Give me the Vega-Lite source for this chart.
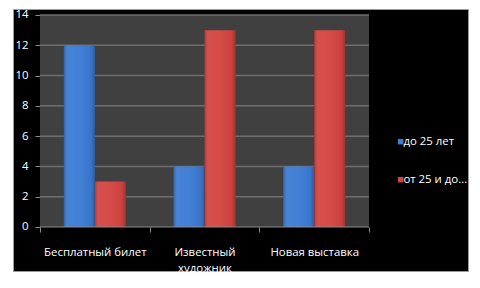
{
  "$schema": "https://vega.github.io/schema/vega-lite/v6.json",
  "width": 455,
  "height": 262,
  "autosize": "none",
  "padding": {"left": 13, "top": 9, "right": 12, "bottom": 17},
  "background": "white",
  "config": {
    "view": {"fill": "black", "stroke": "#9a9a9a", "strokeWidth": 1},
    "font": "Open Sans",
    "axis": {"labelColor": "white", "labelFont": "Open Sans", "labelFontSize": 11.4, "tickColor": "#8a8a8a", "domain": false, "grid": false, "title": null, "labelOverlap": false},
    "legend": {"padding": 0}
  },
  "datasets": {
    "votes": [
      {"reason": "Бесплатный билет", "age": "до 25 лет", "count": 12},
      {"reason": "Бесплатный билет", "age": "от 25 и до…", "count": 3},
      {"reason": "Известный художник", "age": "до 25 лет", "count": 4},
      {"reason": "Известный художник", "age": "от 25 и до…", "count": 13},
      {"reason": "Новая выставка", "age": "до 25 лет", "count": 4},
      {"reason": "Новая выставка", "age": "от 25 и до…", "count": 13}
    ],
    "gridValues": [{"v": 2}, {"v": 4}, {"v": 6}, {"v": 8}, {"v": 10}, {"v": 12}, {"v": 14}]
  },
  "resolve": {"scale": {"color": "independent"}},
  "encoding": {
    "x": {
      "field": "reason",
      "type": "nominal",
      "sort": null,
      "scale": {"domain": ["Бесплатный билет", "Известный художник", "Новая выставка"], "paddingInner": 0, "paddingOuter": 0.5745, "align": 0.2143},
      "axis": {
        "orient": "bottom",
        "offset": -44,
        "tickBand": "extent",
        "tickSize": 5,
        "labelAngle": 0,
        "labelPadding": 14,
        "labelLineHeight": 16,
        "labelExpr": "datum.label == 'Известный художник' ? ['Известный', 'художник'] : datum.label"
      }
    }
  },
  "layer": [
    {
      "data": {"values": [{"top": 14, "bottom": 0}]},
      "mark": {"type": "rect", "color": "#404040"},
      "encoding": {
        "x": {"datum": "Бесплатный билет", "bandPosition": 0},
        "x2": {"datum": "Новая выставка", "bandPosition": 1},
        "y": {"field": "top", "type": "quantitative", "scale": {"domain": [-2.906, 14.396], "nice": false, "zero": false},
          "axis": {"offset": -27, "values": [0, 2, 4, 6, 8, 10, 12, 14], "tickSize": 5, "labelPadding": 7, "labelOverlap": false}},
        "y2": {"field": "bottom"}
      }
    },
    {
      "data": {"name": "gridValues"},
      "mark": {"type": "rule", "color": "#6e6e6e", "strokeWidth": 1.5},
      "encoding": {
        "x": {"datum": "Бесплатный билет", "bandPosition": 0},
        "x2": {"datum": "Новая выставка", "bandPosition": 1},
        "y": {"field": "v", "type": "quantitative",
          "axis": {"offset": -27, "values": [0, 2, 4, 6, 8, 10, 12, 14], "tickSize": 5, "labelPadding": 7, "labelOverlap": false}}
      }
    },
    {
      "data": {"name": "votes"},
      "mark": {"type": "bar"},
      "encoding": {
        "xOffset": {"field": "age", "type": "nominal", "scale": {"paddingInner": 0, "paddingOuter": 0.769}},
        "y": {"field": "count", "type": "quantitative",
          "axis": {"offset": -27, "values": [0, 2, 4, 6, 8, 10, 12, 14], "tickSize": 5, "labelPadding": 7, "labelOverlap": false}},
        "color": {
          "field": "age",
          "type": "nominal",
          "scale": {"domain": ["до 25 лет", "от 25 и до…"], "range": ["#3b7bd4", "#d44441"]},
          "legend": {
            "title": null,
            "orient": "none",
            "legendX": 382,
            "legendY": 127,
            "symbolType": "square",
            "symbolSize": 30,
            "symbolStrokeWidth": 0,
            "labelColor": "white",
            "labelFont": "Open Sans",
            "labelFontSize": 11.4,
            "labelOffset": -3,
            "rowPadding": 25
          }
        }
      }
    },
    {
      "data": {"name": "votes"},
      "mark": {
        "type": "bar",
        "fill": {
          "gradient": "linear", "x1": 0, "x2": 1, "y1": 0, "y2": 0,
          "stops": [
            {"offset": 0, "color": "rgba(0,0,0,0.22)"},
            {"offset": 0.15, "color": "rgba(255,255,255,0.06)"},
            {"offset": 0.5, "color": "rgba(255,255,255,0.04)"},
            {"offset": 0.88, "color": "rgba(0,0,0,0.05)"},
            {"offset": 1, "color": "rgba(0,0,0,0.25)"}
          ]
        }
      },
      "encoding": {
        "xOffset": {"field": "age", "type": "nominal", "scale": {"paddingInner": 0, "paddingOuter": 0.769}},
        "y": {"field": "count", "type": "quantitative",
          "axis": {"offset": -27, "values": [0, 2, 4, 6, 8, 10, 12, 14], "tickSize": 5, "labelPadding": 7, "labelOverlap": false}}
      }
    },
    {
      "data": {"values": [{"v": 0}]},
      "mark": {"type": "rule", "color": "#8a8a8a", "strokeWidth": 1},
      "encoding": {
        "x": {"datum": "Бесплатный билет", "bandPosition": 0},
        "x2": {"datum": "Новая выставка", "bandPosition": 1},
        "y": {"field": "v", "type": "quantitative",
          "axis": {"offset": -27, "values": [0, 2, 4, 6, 8, 10, 12, 14], "tickSize": 5, "labelPadding": 7, "labelOverlap": false}}
      }
    }
  ]
}
